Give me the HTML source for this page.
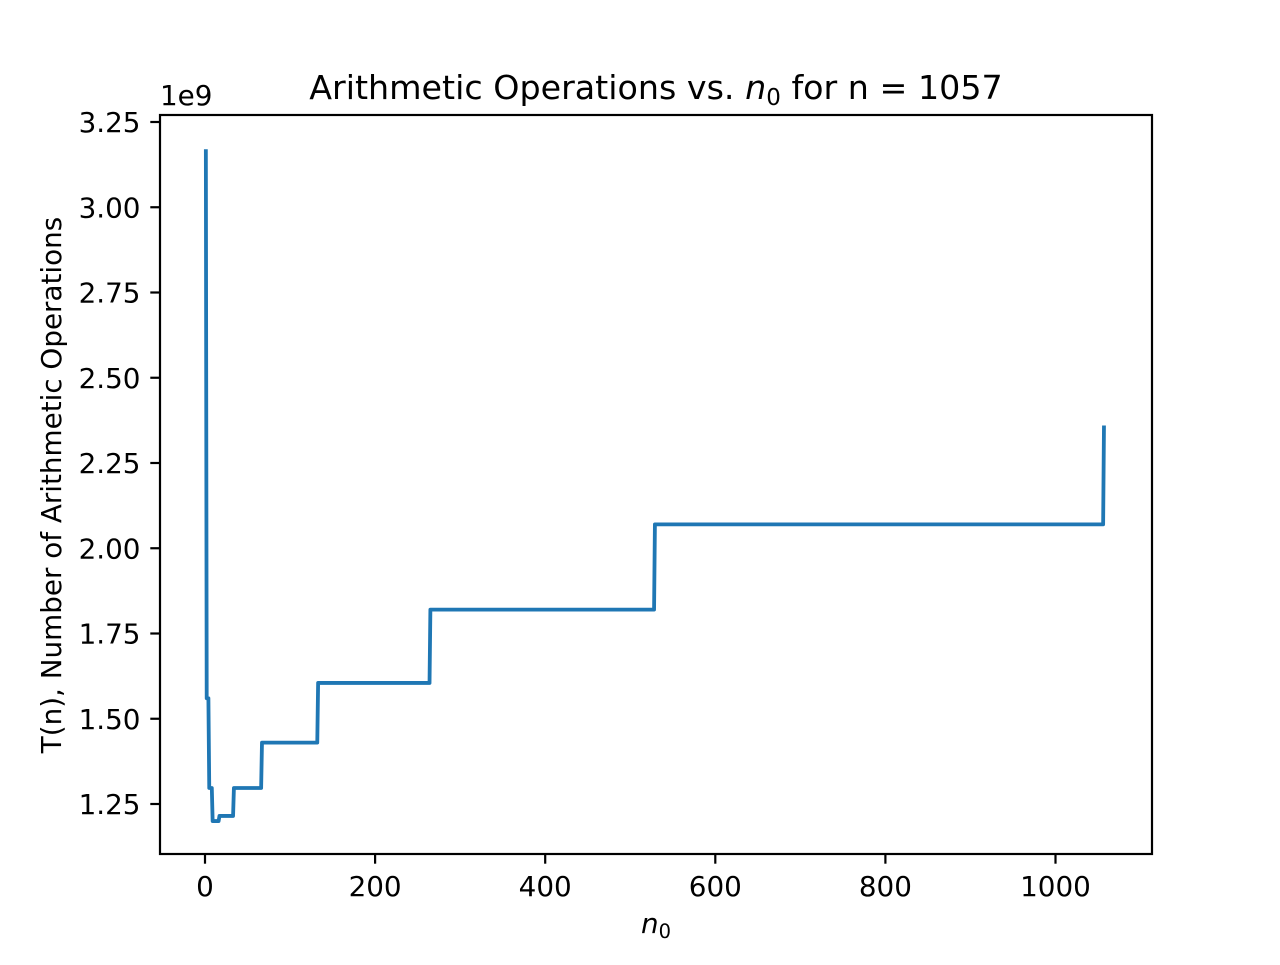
<!DOCTYPE html>
<html><head><meta charset="utf-8"><style>
body{margin:0;background:#fff}
svg text{font-family:"DejaVu Sans","Liberation Sans",sans-serif;fill:#000}
</style></head><body>
<svg id="chart" width="1280" height="960" xmlns="http://www.w3.org/2000/svg">
<rect x="0" y="0" width="1280" height="960" fill="#fff"/>
<text x="656" y="99" font-size="33.3" text-anchor="middle">Arithmetic Operations vs. <tspan font-style="italic">n</tspan><tspan font-size="23" dy="6">0</tspan><tspan dy="-6"> for n = 1057</tspan></text>
<text x="656" y="933" font-size="27.8" text-anchor="middle"><tspan font-style="italic">n</tspan><tspan font-size="19.5" dy="5">0</tspan></text>
<text transform="translate(61,485) rotate(-90)" font-size="27.8" text-anchor="middle">T(n), Number of Arithmetic Operations</text>
<text x="160" y="105" font-size="27.8">1e9</text>
</svg>
<script>
const segStart=[1,2,5,9,17,34,67,133,265,529,1057];
const segEnd=[1,4,8,16,33,66,132,264,528,1056,1057];
const segValue=[3.17,1.56,1.297,1.20,1.215,1.297,1.43,1.605,1.82,2.07,2.36];
const xTicks=[0,200,400,600,800,1000];
const yTicks=[1.25,1.50,1.75,2.00,2.25,2.50,2.75,3.00,3.25];
const L=160,R=1152,T=115,B=854;
const xs=v=>205+v*0.8505;
const ys=v=>804-(v-1.25)*341;
const svg=document.getElementById('chart');
const NS='http://www.w3.org/2000/svg';
function mk(tag,attrs){const e=document.createElementNS(NS,tag);for(const k in attrs)e.setAttribute(k,attrs[k]);svg.appendChild(e);return e;}
xTicks.forEach(t=>{
  const l=mk('line',{x1:xs(t),x2:xs(t),y1:B,y2:B+9.7,stroke:'#000','stroke-width':2.2});
  
  
  const tx=mk('text',{x:xs(t),y:B+42,'font-size':27.8,'text-anchor':'middle'});
  tx.textContent=t;
  
  
});
yTicks.forEach(t=>{
  const l=mk('line',{x1:L-9.7,x2:L,y1:ys(t),y2:ys(t),stroke:'#000','stroke-width':2.2});
  
  
  const tx=mk('text',{x:L-19.5,y:ys(t)+10,'font-size':27.8,'text-anchor':'end'});
  tx.textContent=t.toFixed(2);
  
  
});
let pts=[];
for(let i=0;i<segStart.length;i++){pts.push(xs(segStart[i])+','+ys(segValue[i]));pts.push(xs(segEnd[i])+','+ys(segValue[i]));}
const line=mk('polyline',{points:pts.join(' '),fill:'none',stroke:'#1f77b4','stroke-width':3.8,'stroke-linejoin':'round'});


const fr=mk('rect',{x:L,y:T,width:R-L,height:B-T,fill:'none',stroke:'#000','stroke-width':2.2});


</script>
</body></html>
